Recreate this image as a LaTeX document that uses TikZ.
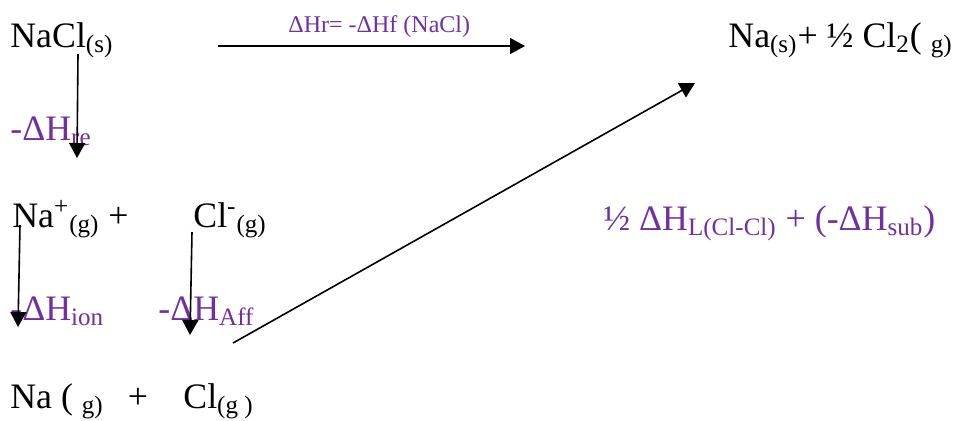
\documentclass[tikz,border=0pt]{standalone}
\usepackage{fontspec}
\setmainfont{Liberation Serif}
\usetikzlibrary{arrows.meta}
\definecolor{enthalpy}{RGB}{112,48,160}

\begin{document}
\begin{tikzpicture}[
  x=0.5pt, y=-0.5pt,
  species/.style={inner sep=0pt, anchor=base west, font=\fontsize{17.9}{21}\selectfont},
  dhterm/.style={inner sep=0pt, anchor=base west, text=enthalpy,
                 font=\fontsize{17.9}{21}\selectfont},
  stepflow/.style={-{Triangle[length=7.5pt, width=8pt]}, line width=0.8pt, black},
]
  \useasboundingbox (0,0) rectangle (958,420);

  \node[species] (nacl) at (10,47) {NaCl\textsubscript{(s)}};
  \node[species] (elements) at (728,47) {Na\textsubscript{(s)}+ ½ Cl\textsubscript{2}( \textsubscript{g)}};
  \node[species] (sodiumion) at (12,227) {Na\textsuperscript{+}\textsubscript{(g)} +};
  \node[species] (chloride) at (193,227) {Cl\textsuperscript{-}\textsubscript{(g)}};
  \node[species] (sodium) at (10,408) {Na ( \textsubscript{g)}\hspace{12pt}+};
  \node[species] (chlorine) at (183,408) {Cl\textsubscript{(g )}};

  \node[dhterm, font=\fontsize{12}{14}\selectfont] (dhr) at (288,32) {ΔHr= -ΔHf (NaCl)};
  \node[dhterm] (dhre) at (10,140) {-ΔH\textsubscript{re}};
  \node[dhterm] (dhion) at (10,320) {-ΔH\textsubscript{ion}};
  \node[dhterm] (dhaff) at (158,320) {-ΔH\textsubscript{Aff}};
  \node[dhterm] (dhsub) at (603,230) {½ ΔH\textsubscript{L(Cl-Cl)} + (-ΔH\textsubscript{sub})};

  \coordinate (formStart) at ([shift={(208,-1)}]nacl.base west);
  \coordinate (formEnd) at ([shift={(-203,-1)}]elements.base west);
  \coordinate (reStart) at ([shift={(68,7)}]nacl.base west);
  \coordinate (reEnd) at ([shift={(67,18)}]dhre.base west);
  \coordinate (ionStart) at ([shift={(8,-2)}]sodiumion.base west);
  \coordinate (ionEnd) at ([shift={(8,7)}]dhion.base west);
  \coordinate (affStart) at ([shift={(-1,5)}]chloride.base west);
  \coordinate (affEnd) at ([shift={(32,15)}]dhaff.base west);
  \coordinate (atomStart) at ([shift={(40,23)}]chloride.base west |- dhaff.base);
  \coordinate (atomEnd) at ([shift={(-33,36)}]elements.base west);

  \draw[stepflow] (formStart) -- (formEnd);
  \draw[stepflow] (reStart) -- (reEnd);
  \draw[stepflow] (ionStart) -- (ionEnd);
  \draw[stepflow] (affStart) -- (affEnd);
  \draw[stepflow] (atomStart) -- (atomEnd);
\end{tikzpicture}
\end{document}
